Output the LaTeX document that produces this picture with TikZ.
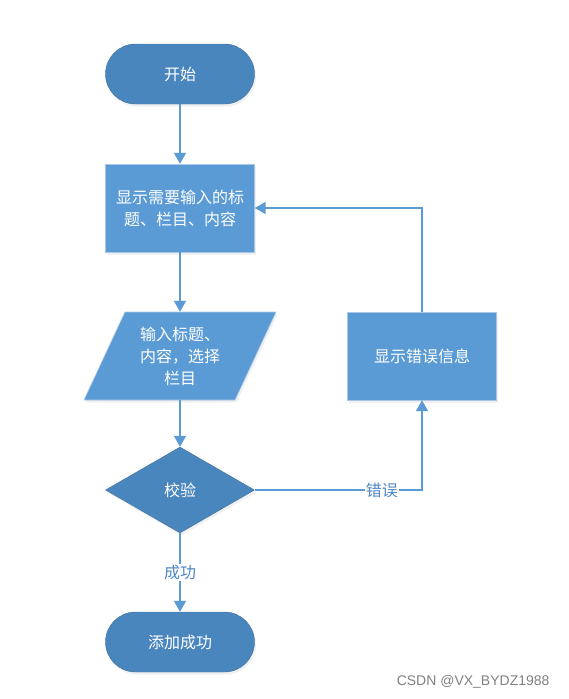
\documentclass[tikz,border=0pt]{standalone}
\usepackage{fontspec}
\setmainfont{Noto Sans CJK SC}
\newfontfamily\markfont{Liberation Sans}
\usetikzlibrary{arrows.meta,shapes.geometric,shadows}
\definecolor{darkfill}{HTML}{4A86BE}
\definecolor{lightfill}{HTML}{5B9BD5}
\definecolor{darkline}{HTML}{41719C}
\definecolor{lightline}{HTML}{A9C6E8}
\definecolor{flowline}{HTML}{5B9BD5}
\definecolor{labelblue}{HTML}{4F86C6}

\begin{document}
\begin{tikzpicture}[x=1pt, y=-1pt, font=\fontsize{16}{22}\selectfont]
    \tikzstyle{node_shadow} = [drop shadow={opacity=0.12, shadow xshift=1.5pt, shadow yshift=-2.5pt}]
    \tikzstyle{node_terminal} = [rectangle, rounded corners=30pt, draw=darkline, fill=darkfill, text=white, minimum width=149pt, minimum height=60pt, node_shadow]
    \tikzstyle{node_process} = [rectangle, draw=lightline, fill=lightfill, text=white, minimum width=149pt, minimum height=88pt, align=center, node_shadow]
    \tikzstyle{node_decision} = [diamond, draw=darkline, fill=darkfill, text=white, minimum width=149pt, minimum height=86pt, inner sep=0pt, node_shadow]
    \tikzstyle{node_io} = [rectangle, text=white, minimum width=151pt, minimum height=88pt, inner sep=0pt, align=center]
    \tikzstyle{edge_style} = [draw=flowline, line width=1.8pt, -{Triangle[width=12pt,length=11pt]}]
    \tikzstyle{edge_label} = [fill=white, text=labelblue, inner sep=1pt]
    \useasboundingbox (0,0) rectangle (568,699);

    \node[node_terminal] (start) at (180,74) {开始};
    \node[node_process] (show) at (180,208) {显示需要输入的标\\题、栏目、内容};
    % parallelogram drawn round the text node
    \fill[lightfill, node_shadow] (125,312) -- (276,312) -- (235,400) -- (84,400) -- cycle;
    \draw[lightline, line width=0.6pt] (125,312) -- (276,312) -- (235,400) -- (84,400) -- cycle;
    \node[node_io] (input) at (180,356) {输入标题、\\内容，选择\\栏目};
    \node[node_decision] (check) at (180,490) {校验};
    \node[node_terminal] (done) at (180,642) {添加成功};
    \node[node_process] (err) at (422,356) {显示错误信息};

    \node[text=gray, anchor=east, font=\markfont\fontsize{14}{16}\selectfont] (mark) at (553,682) {CSDN @VX\_BYDZ1988};

    \draw[edge_style] (start) -- (show);
    \draw[edge_style] (show) -- (input);
    \draw[edge_style] (input) -- (check);
    \draw[edge_style] (check) -- node[edge_label, pos=0.5] {成功} (done);
    \draw[edge_style] (check) -| node[edge_label, pos=0.38] {错误} (err);
    \draw[edge_style] (err) |- (show);
\end{tikzpicture}
\end{document}
